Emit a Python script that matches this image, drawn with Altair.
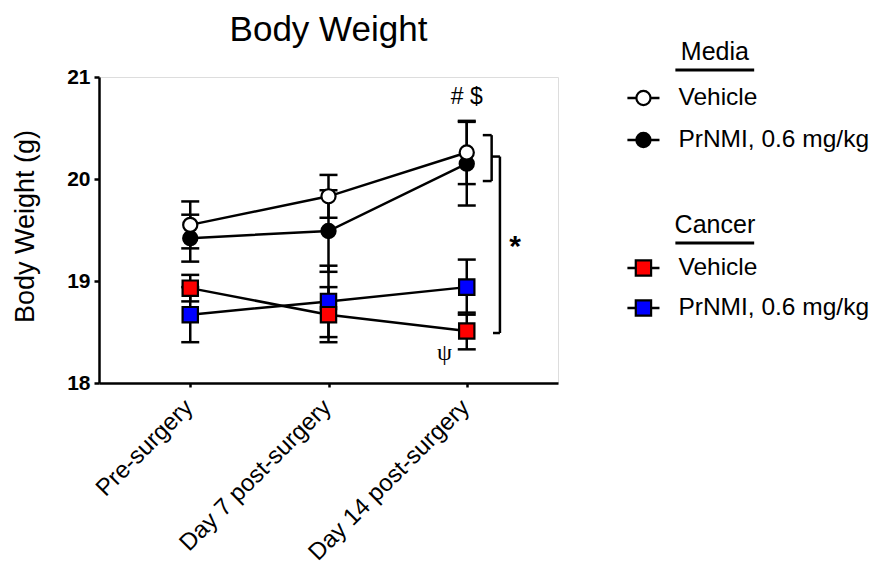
import json
import altair as alt
import pandas as pd

# ---------------- data ----------------
categories = ["Pre-surgery", "Day 7 post-surgery", "Day 14 post-surgery"]
series_keys = ["Cancer PrNMI", "Cancer Vehicle", "Media PrNMI", "Media Vehicle"]
series_groups = ["Cancer", "Cancer", "Media", "Media"]
series_labels = ["PrNMI, 0.6 mg/kg", "Vehicle", "PrNMI, 0.6 mg/kg", "Vehicle"]
series_colors = ["#0000ff", "#ff0000", "#000000", "#ffffff"]

media_vehicle_mean = [19.55, 19.83, 20.26]
media_vehicle_err = [0.23, 0.21, 0.31]
media_prnmi_mean = [19.42, 19.49, 20.15]
media_prnmi_err = [0.23, 0.40, 0.41]
cancer_vehicle_mean = [18.93, 18.67, 18.51]
cancer_vehicle_err = [0.13, 0.27, 0.18]
cancer_prnmi_mean = [18.67, 18.80, 18.94]
cancer_prnmi_err = [0.27, 0.35, 0.27]

y_ticks = [18, 19, 20, 21]

# annotations (text, x in category units, y in grams)
ann_text = ["# $", "\u03c8", "*"]
ann_x = [2.0, 1.84, 2.35]
ann_y = [20.80, 18.29, 19.33]

# significance brackets: (x, x2, y, y2)
bracket_x = [2.18, 2.116, 2.116, 2.24, 2.18, 2.19]
bracket_x2 = [2.18, 2.18, 2.18, 2.24, 2.24, 2.24]
bracket_y = [19.98, 20.43, 19.98, 18.49, 20.22, 18.49]
bracket_y2 = [20.43, 20.43, 19.98, 20.22, 20.22, 18.49]

# legend layout (in the chart's own scale units)
leg_row_y = [18.735, 19.127, 20.382, 20.794]
leg_title_text = ["Media", "Cancer"]
leg_title_y = [21.17, 19.47]
leg_underline_y = [21.069, 19.373]

# ---------------- tables ----------------
means = {
    "Media Vehicle": (media_vehicle_mean, media_vehicle_err),
    "Media PrNMI": (media_prnmi_mean, media_prnmi_err),
    "Cancer Vehicle": (cancer_vehicle_mean, cancer_vehicle_err),
    "Cancer PrNMI": (cancer_prnmi_mean, cancer_prnmi_err),
}
rows = []
for key, grp in zip(series_keys, series_groups):
    m, e = means[key]
    for i in range(len(categories)):
        rows.append({"series": key, "group": grp, "x": i, "mean": m[i],
                     "lo": m[i] - e[i], "hi": m[i] + e[i]})
df = pd.DataFrame(rows)
caps = pd.concat([
    df.assign(cap=df["lo"]),
    df.assign(cap=df["hi"]),
])

leg = pd.DataFrame({
    "series": series_keys, "group": series_groups, "label": series_labels,
    "y": leg_row_y, "xs": 3.162, "xe": 3.394, "xc": 3.278, "xt": 3.531,
})
leg_titles = pd.DataFrame({"text": leg_title_text, "y": leg_title_y,
                           "uy": leg_underline_y, "x": 3.795,
                           "ux": 3.509, "ux2": 4.079})
ann = pd.DataFrame({"text": ann_text, "x": ann_x, "y": ann_y})
brk = pd.DataFrame({"x": bracket_x, "x2": bracket_x2, "y": bracket_y, "y2": bracket_y2})

# ---------------- scales ----------------
FONT = "Liberation Sans"
x_scale = alt.Scale(domain=[-0.66, 2.66], nice=False, zero=False)
y_scale = alt.Scale(domain=[18, 21], nice=False, zero=False)
fill_scale = alt.Scale(domain=series_keys, range=series_colors)
shape_scale = alt.Scale(domain=["Media", "Cancer"], range=["circle", "square"])
size_scale = alt.Scale(domain=["Media", "Cancer"], range=[200, 235])

label_expr = " : ".join(
    f"datum.value == {i} ? {json.dumps(c)}" for i, c in enumerate(categories[:-1])
) + f" : {json.dumps(categories[-1])}"

x_axis = alt.Axis(values=list(range(len(categories))), labelExpr=label_expr,
                  labelAngle=-45, labelFontSize=24, labelFont=FONT, labelColor="black",
                  labelOverlap=False, labelLimit=500, labelOffset=-10,
                  title=None, grid=False, domainColor="black", domainWidth=2.5,
                  tickColor="black", tickWidth=2.5, tickSize=4, labelPadding=8)
y_axis = alt.Axis(values=y_ticks, format="d", labelFontSize=21, labelFontWeight="bold",
                  labelFont=FONT, labelColor="black", title="Body Weight (g)",
                  titleFont=FONT, titleFontSize=27, titleFontWeight="normal",
                  titleColor="black", titlePadding=27, titleY=149, grid=False,
                  domainColor="black", domainWidth=2.5, tickColor="black",
                  tickWidth=2.5, tickSize=5, labelPadding=4)

base = alt.Chart(df)
X = alt.X("x:Q", scale=x_scale, axis=x_axis)
Y = alt.Y("mean:Q", scale=y_scale, axis=y_axis)

lines = base.mark_line(color="black", strokeWidth=2.5).encode(
    x=X, y=Y, detail="series:N", order="x:Q")
err = base.mark_rule(color="black", strokeWidth=2.5).encode(
    x=alt.X("x:Q", scale=x_scale), y=alt.Y("lo:Q", scale=y_scale), y2="hi:Q")
capm = alt.Chart(caps).mark_tick(color="black", thickness=2.5, size=18,
                                 orient="horizontal", opacity=1).encode(
    x=alt.X("x:Q", scale=x_scale), y=alt.Y("cap:Q", scale=y_scale))
pts = base.mark_point(filled=True, stroke="black", strokeWidth=2.2, opacity=1).encode(
    x=alt.X("x:Q", scale=x_scale), y=alt.Y("mean:Q", scale=y_scale),
    fill=alt.Fill("series:N", scale=fill_scale, legend=None),
    shape=alt.Shape("group:N", scale=shape_scale, legend=None),
    size=alt.Size("group:N", scale=size_scale, legend=None),
)

brackets = alt.Chart(brk).mark_rule(color="black", strokeWidth=2.5).encode(
    x=alt.X("x:Q", scale=x_scale), x2="x2:Q",
    y=alt.Y("y:Q", scale=y_scale), y2="y2:Q")
ann_hash = alt.Chart(ann).transform_filter("datum.text == '# $'").mark_text(
    font=FONT, fontSize=23, color="black", baseline="middle", align="center").encode(
    x=alt.X("x:Q", scale=x_scale), y=alt.Y("y:Q", scale=y_scale), text="text:N")
ann_psi = alt.Chart(ann).transform_filter("datum.text == '\u03c8'").mark_text(
    font="Liberation Serif", fontSize=24, color="black", baseline="middle",
    align="center").encode(
    x=alt.X("x:Q", scale=x_scale), y=alt.Y("y:Q", scale=y_scale), text="text:N")
ann_star = alt.Chart(ann).transform_filter("datum.text == '*'").mark_text(
    font=FONT, fontSize=30, fontWeight="bold", color="black", baseline="middle",
    align="center").encode(
    x=alt.X("x:Q", scale=x_scale), y=alt.Y("y:Q", scale=y_scale), text="text:N")

# legend
leg_base = alt.Chart(leg)
leg_lines = leg_base.mark_rule(color="black", strokeWidth=2.5).encode(
    x=alt.X("xs:Q", scale=x_scale), x2="xe:Q", y=alt.Y("y:Q", scale=y_scale))
leg_pts = leg_base.mark_point(filled=True, stroke="black", strokeWidth=2.2, opacity=1).encode(
    x=alt.X("xc:Q", scale=x_scale), y=alt.Y("y:Q", scale=y_scale),
    fill=alt.Fill("series:N", scale=fill_scale, legend=None),
    shape=alt.Shape("group:N", scale=shape_scale, legend=None),
    size=alt.Size("group:N", scale=size_scale, legend=None),
)
leg_text = leg_base.mark_text(font=FONT, fontSize=24.5, color="black", align="left",
                              baseline="middle").encode(
    x=alt.X("xt:Q", scale=x_scale), y=alt.Y("y:Q", scale=y_scale), text="label:N")
leg_tt = alt.Chart(leg_titles).mark_text(font=FONT, fontSize=25, color="black",
                                         align="center", baseline="alphabetic").encode(
    x=alt.X("x:Q", scale=x_scale), y=alt.Y("y:Q", scale=y_scale), text="text:N")
leg_ul = alt.Chart(leg_titles).mark_rule(color="black", strokeWidth=3).encode(
    x=alt.X("ux:Q", scale=x_scale), x2="ux2:Q", y=alt.Y("uy:Q", scale=y_scale))

chart = alt.layer(
    err, capm, lines, pts, brackets, ann_hash, ann_psi, ann_star,
    leg_lines, leg_pts, leg_text, leg_tt, leg_ul,
).properties(
    width=459, height=306,
    title=alt.Title("Body Weight", font=FONT, fontSize=35, fontWeight="normal",
                    color="black", anchor="middle", frame="group", offset=-8),
    autosize=alt.AutoSizeParams(type="none"),
    padding={"left": 91, "top": 69, "right": 316, "bottom": 186},
).configure_view(strokeWidth=0, stroke=None).configure(background="white")

chart.save("out.html", embed_options={"renderer": "svg", "actions": False})
